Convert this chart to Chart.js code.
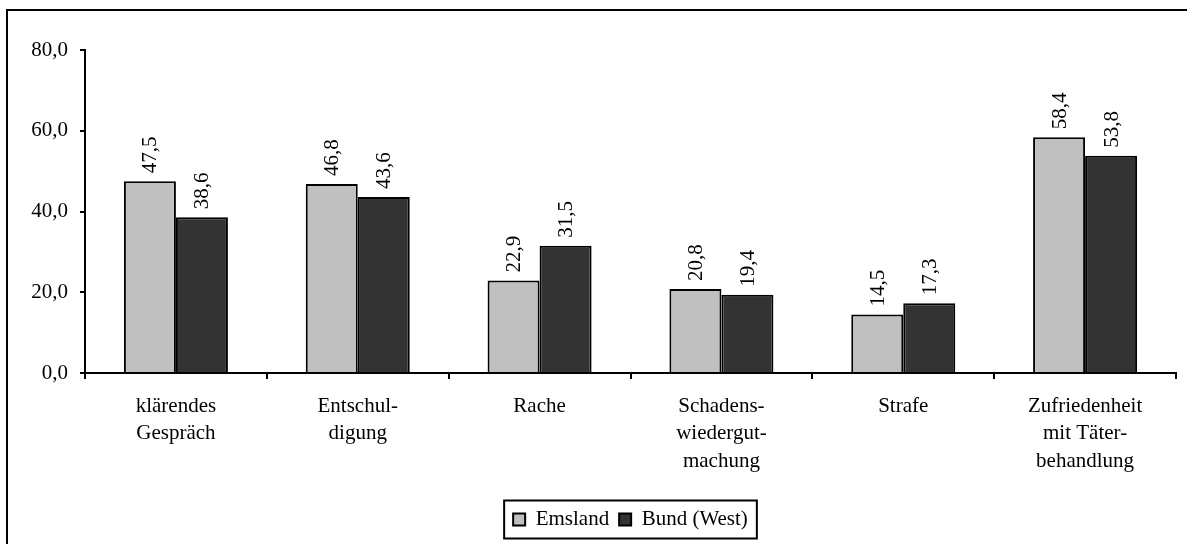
<!DOCTYPE html>
<html>
<head>
<meta charset="utf-8">
<title>Emsland / Bund (West)</title>
<script src="https://cdn.jsdelivr.net/npm/chart.js@4/dist/chart.umd.min.js"></script>
<style>
  html, body { margin: 0; padding: 0; background: #fff; }
  canvas { display: block; }
</style>
</head>
<body>
<canvas id="chart" width="1187" height="544"></canvas>
<script>
// categories (multi-line tick labels)
const categories = [
    ['klärendes', 'Gespräch'],
    ['Entschul-', 'digung'],
    ['Rache'],
    ['Schadens-', 'wiedergut-', 'machung'],
    ['Strafe'],
    ['Zufriedenheit', 'mit Täter-', 'behandlung']
];
const emsland = [47.5, 46.8, 22.9, 20.8, 14.5, 58.4];
const bundWest = [38.6, 43.6, 31.5, 19.4, 17.3, 53.8];
const seriesNames = ['Emsland', 'Bund (West)'];
const yTicks = [0, 20, 40, 60, 80];

const FONT = "'Liberation Serif', 'Times New Roman', serif";
const fmt = v => v.toFixed(1).replace('.', ',');

// outer frame (right and bottom edges fall outside the canvas)
const framePlugin = {
    id: 'frame',
    beforeDraw(chart) {
        const ctx = chart.ctx;
        ctx.save();
        ctx.strokeStyle = '#000';
        ctx.lineWidth = 2;
        ctx.strokeRect(7, 10, chart.width + 50, chart.height + 50);
        ctx.restore();
    }
};

// rotated value labels above each bar
const valueLabels = {
    id: 'valueLabels',
    afterDatasetsDraw(chart) {
        const ctx = chart.ctx;
        ctx.save();
        ctx.font = '21px ' + FONT;
        ctx.fillStyle = '#000';
        ctx.textAlign = 'left';
        ctx.textBaseline = 'middle';
        chart.data.datasets.forEach((ds, di) => {
            chart.getDatasetMeta(di).data.forEach((bar, i) => {
                ctx.save();
                ctx.translate(bar.x, bar.y - 8);
                ctx.rotate(-Math.PI / 2);
                ctx.fillText(fmt(ds.data[i]), 0, 1);
                ctx.restore();
            });
        });
        ctx.restore();
    }
};

// center the legend under the plot area and frame it
const legendBox = {
    id: 'legendBox',
    afterLayout(chart) {
        chart.legend.left = chart.chartArea.left;
        chart.legend.right = chart.chartArea.right;
    },
    afterDraw(chart) {
        const boxes = chart.legend.legendHitBoxes;
        if (!boxes || !boxes.length) return;
        const left = Math.min(...boxes.map(b => b.left)) - 9;
        const right = Math.max(...boxes.map(b => b.left + b.width)) + 9;
        const mid = boxes[0].top + boxes[0].height / 2;
        const ctx = chart.ctx;
        ctx.save();
        ctx.strokeStyle = '#000';
        ctx.lineWidth = 2;
        ctx.strokeRect(left, mid - 19, right - left, 38);
        ctx.restore();
    }
};

new Chart(document.getElementById('chart'), {
    type: 'bar',
    data: {
        labels: categories,
        datasets: [
            { label: seriesNames[0], data: emsland, backgroundColor: '#c0c0c0', borderColor: '#000', borderWidth: 2 },
            { label: seriesNames[1], data: bundWest, backgroundColor: '#333333', borderColor: '#000', borderWidth: 2 }
        ]
    },
    options: {
        responsive: false,
        devicePixelRatio: 1,
        animation: false,
        layout: { padding: { top: 50, right: 11, left: 0, bottom: 4 } },
        datasets: { bar: { categoryPercentage: 0.572, barPercentage: 1 } },
        plugins: {
            tooltip: { enabled: false },
            legend: {
                position: 'bottom',
                labels: {
                    font: { family: FONT, size: 21 },
                    color: '#000',
                    boxWidth: 12,
                    boxHeight: 12,
                    padding: 10
                }
            }
        },
        scales: {
            x: {
                afterFit: s => { s.height = 126; },
                grid: { drawOnChartArea: false, color: '#000', lineWidth: 2, tickLength: 6 },
                border: { color: '#000', width: 2 },
                ticks: {
                    color: '#000',
                    padding: 14,
                    maxRotation: 0,
                    autoSkip: false,
                    font: { family: FONT, size: 21, lineHeight: 1.3 }
                }
            },
            y: {
                min: 0,
                max: 80,
                afterFit: s => { s.width = 85; },
                afterBuildTicks: s => { s.ticks = yTicks.map(v => ({ value: v })); },
                grid: { drawOnChartArea: false, color: '#000', lineWidth: 2, tickLength: 5 },
                border: { color: '#000', width: 2 },
                ticks: {
                    color: '#000',
                    padding: 12,
                    font: { family: FONT, size: 21 },
                    callback: v => fmt(v)
                }
            }
        }
    },
    plugins: [framePlugin, valueLabels, legendBox]
});
</script>
</body>
</html>
